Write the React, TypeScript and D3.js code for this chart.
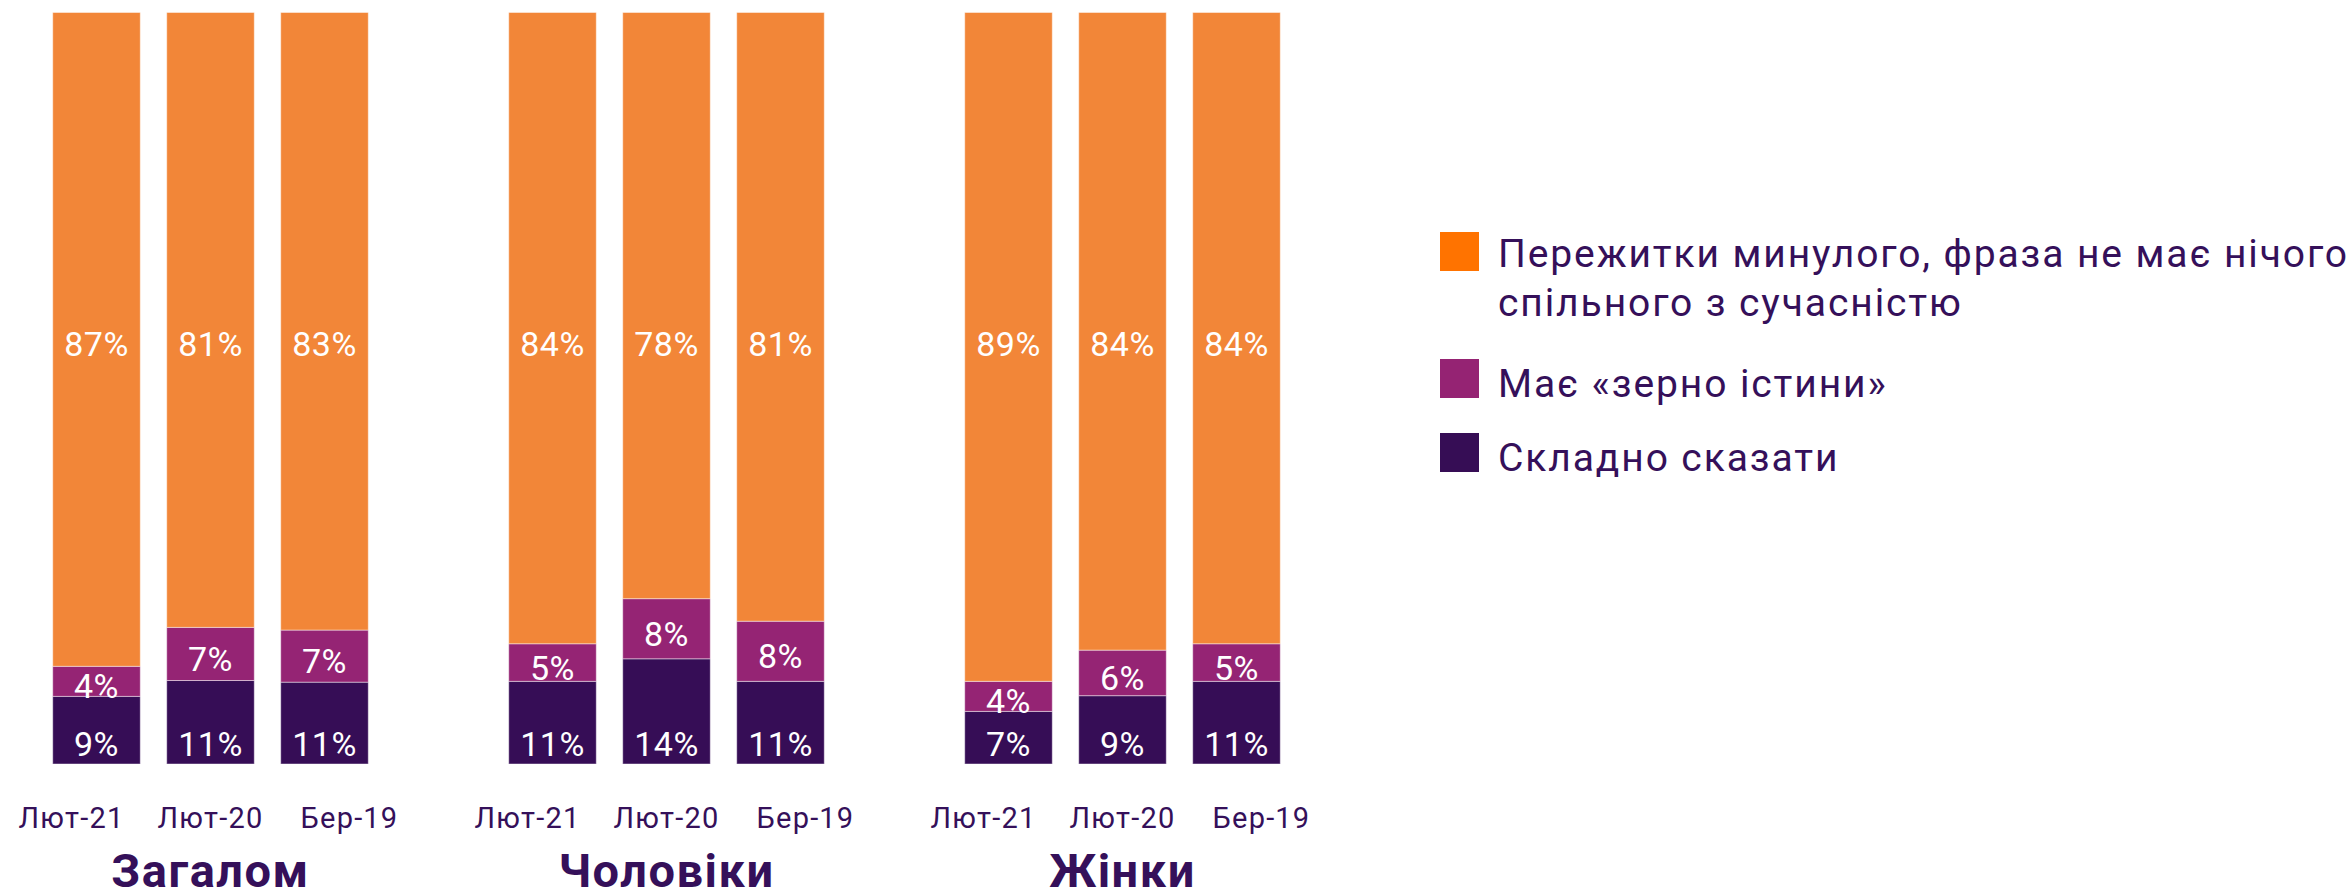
import React from "react";
import * as d3 from "d3";

const groups = ["Загалом", "Чоловіки", "Жінки"];
const periods = ["Лют-21", "Лют-20", "Бер-19"];
const seriesNames = [
  "Пережитки минулого, фраза не має нічого спільного з сучасністю",
  "Має «зерно істини»",
  "Складно сказати",
];
// values per group, per period
const relic = [
  [87, 81, 83],
  [84, 78, 81],
  [89, 84, 84],
];
const grain = [
  [4, 7, 7],
  [5, 8, 8],
  [4, 6, 5],
];
const hard = [
  [9, 11, 11],
  [11, 14, 11],
  [7, 9, 11],
];

const barColors = ["#F28638", "#952474", "#360D56"];
const legendColors = ["#FF7300", "#952373", "#360D55"];
const legendLines = [
  ["Пережитки минулого, фраза не має нічого", "спільного з сучасністю"],
  ["Має «зерно істини»"],
  ["Складно сказати"],
];
const textColor = "#35105A";
const FONT = "Roboto, 'Noto Sans', sans-serif";

export default function App() {
  const W = 2351;
  const H = 894;
  const top = 12.5;
  const bottom = 764;

  const xGroup = d3.scaleBand<string>().domain(groups).range([39.5, 39.5 + 3 * 456]).padding(0);
  const xBar = d3
    .scaleBand<string>()
    .domain(periods)
    .range([0, 342])
    .paddingInner(0.232)
    .paddingOuter(0.116);
  const xLabel = d3.scaleBand<string>().domain(periods).range([-37.5, 379.5]);
  const y = d3.scaleLinear().domain([0, 1]).range([bottom, top]);

  const bars: any[] = [];
  groups.forEach((g, gi) => {
    periods.forEach((p, pi) => {
      const vals = [relic[gi][pi], grain[gi][pi], hard[gi][pi]];
      const total = d3.sum(vals);
      // stacking order bottom: hard, grain, relic
      const order = [2, 1, 0];
      let acc = 0;
      const segs: any[] = [];
      order.forEach((si) => {
        const v = vals[si] / total;
        segs.push({ si, y0: acc, y1: acc + v, value: vals[si] });
        acc += v;
      });
      bars.push({ g, p, gi, pi, segs, x: (xGroup(g) as number) + (xBar(p) as number) });
    });
  });

  const bw = xBar.bandwidth();

  return (
    <svg
      width={W}
      height={H}
      style={{ position: "absolute", left: 0, top: 0, background: "#fff" }}
      fontFamily={FONT}
    >
      {bars.map((b, i) => (
        <g key={i}>
          {b.segs.map((s: any) => (
            <rect
              key={s.si}
              x={b.x}
              y={y(s.y1)}
              width={bw}
              height={y(s.y0) - y(s.y1)}
              fill={barColors[s.si]}
              stroke="#ffffff"
              strokeOpacity={0.45}
              strokeWidth={1}
            />
          ))}
          {b.segs.map((s: any) => {
            const cy = s.si === 2 ? 756 : s.si === 0 ? 356 : (y(s.y0) + y(s.y1)) / 2 + 17;
            return (
              <text
                key={"t" + s.si}
                x={b.x + bw / 2}
                y={cy}
                textAnchor="middle"
                fill="#ffffff"
                fontSize={34}
                letterSpacing={0.5}
              >
                {s.value}%
              </text>
            );
          })}
        </g>
      ))}
      {groups.map((g) => (
        <g key={g} transform={`translate(${xGroup(g)},0)`}>
          {periods.map((p) => (
            <text
              key={p}
              x={(xLabel(p) as number) + xLabel.bandwidth() / 2}
              y={828}
              textAnchor="middle"
              fill={textColor}
              fontSize={29}
              letterSpacing={1.2}
            >
              {p}
            </text>
          ))}
          <text
            x={(xBar("Лют-20") as number) + bw / 2}
            y={887}
            textAnchor="middle"
            fill={textColor}
            fontSize={47}
            fontWeight={700}
            letterSpacing={1.5}
          >
            {g}
          </text>
        </g>
      ))}
      <g>
        {seriesNames.map((n, i) => {
          const sqY = [232, 359, 433][i];
          const baseY = [267, 397, 471][i];
          return (
            <g key={n}>
              <rect x={1440} y={sqY} width={39} height={39} fill={legendColors[i]} />
              {legendLines[i].map((line, li) => (
                <text
                  key={li}
                  x={1498}
                  y={baseY + li * 49}
                  fill={textColor}
                  fontSize={39}
                  letterSpacing={1.9}
                >
                  {line}
                </text>
              ))}
            </g>
          );
        })}
      </g>
    </svg>
  );
}
